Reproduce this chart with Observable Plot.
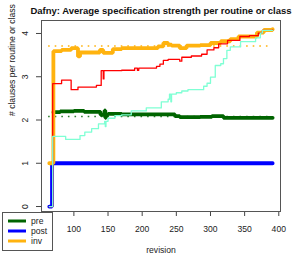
<!DOCTYPE html>
<html>
<head>
<meta charset="utf-8">
<script src="https://cdn.jsdelivr.net/npm/d3@7"></script>
<script src="https://cdn.jsdelivr.net/npm/@observablehq/plot@0.6"></script>
<style>
  html, body { margin: 0; padding: 0; background: #fff; }
  svg { display: block; font-family: "Liberation Sans", Arial, sans-serif; }
</style>
</head>
<body>
<div id="chart"></div>
<script>
const title = "Dafny: Average specification strength per routine or class";
const xLabel = "revision";
const yLabel = "# clauses per routine or class";
const xTicks = [100, 150, 200, 250, 300, 350, 400];
const yTicks = [0, 1, 2, 3, 4];

// pre (dark green, thick)
const preRev = [70, 80, 100, 115, 139, 145, 146, 147, 150, 170, 243, 248, 255, 285, 302, 319, 391];
const preVal = [2.18, 2.20, 2.21, 2.19, 2.12, 2.22, 2.05, 2.12, 2.14, 2.13, 2.13, 2.09, 2.065, 2.07, 2.09, 2.05, 2.05];
// post (blue, thick)
const postRev = [64, 68, 391];
const postVal = [0, 1, 1];
// inv (orange, thick)
const invRev = [64, 70, 82, 96, 106, 109, 138, 143, 157, 170, 223, 231, 238, 243, 255, 265, 285, 300, 315, 329, 341, 368, 378, 391];
const invVal = [1.0, 3.59, 3.62, 3.66, 3.47, 3.56, 3.62, 3.55, 3.64, 3.66, 3.70, 3.78, 3.74, 3.72, 3.66, 3.72, 3.73, 3.78, 3.82, 3.87, 3.93, 4.02, 4.08, 4.10];
// red thin series
const redRev = [64, 69, 82, 96, 106, 133, 140, 143, 144, 170, 189, 193, 195, 221, 226, 231, 238, 255, 258, 272, 287, 295, 305, 312, 325, 343, 357, 370, 376, 391];
const redVal = [0, 2.84, 2.92, 2.70, 2.76, 2.80, 3.14, 2.95, 3.14, 3.15, 3.20, 3.15, 3.20, 3.24, 3.29, 3.38, 3.40, 3.36, 3.45, 3.48, 3.52, 3.62, 3.67, 3.76, 3.84, 3.93, 3.95, 4.01, 4.07, 4.08];
// aquamarine thin series
const aquaRev = [64, 69, 88, 109, 116, 126, 136, 145, 146, 147, 150, 160, 170, 184, 206, 228, 238, 240, 242, 243, 250, 258, 267, 290, 295, 300, 307, 315, 319, 324, 329, 344, 366, 373, 376, 391];
const aquaVal = [0, 1.62, 1.55, 1.64, 1.72, 1.80, 1.91, 1.97, 1.85, 1.97, 2.04, 2.10, 2.12, 2.21, 2.28, 2.42, 2.48, 2.60, 2.42, 2.60, 2.63, 2.67, 2.70, 2.78, 2.85, 2.99, 3.26, 3.30, 3.42, 3.61, 3.69, 3.81, 3.90, 4.01, 4.07, 4.07];
// dotted reference levels
const refRange = [63, 391];
const invRef = 3.71;
const preRef = 2.08;

const legendLabels = ["pre", "post", "inv"];
const legendColors = ["#006400", "#0000ff", "#ffb30f"];

const toRows = (rev, val) => rev.map((r, i) => ({rev: r, val: val[i]}));

const thick = (rev, val, color) => Plot.line(toRows(rev, val), {x: "rev", y: "val", stroke: color, strokeWidth: 3.8, curve: "step-after", strokeLinejoin: "miter"});
const thin = (rev, val, color) => Plot.line(toRows(rev, val), {x: "rev", y: "val", stroke: color, strokeWidth: 1.3, curve: "step-after"});

const chart = Plot.plot({
  width: 294,
  height: 254,
  marginLeft: 41,
  marginRight: 14,
  marginTop: 20,
  marginBottom: 43,
  style: {fontFamily: "'Liberation Sans', Arial, sans-serif", background: "#fff"},
  x: {domain: [52.6, 402.5]},
  y: {domain: [-0.115, 4.3]},
  marks: [
    Plot.axisX(xTicks, {tickSize: 5, tickPadding: 9, fontSize: 8.6, stroke: "#444", color: "#222", label: null}),
    Plot.axisY(yTicks, {tickSize: 5, text: null, stroke: "#444", label: null}),
    Plot.text(yTicks, {y: d => d, frameAnchor: "left", dx: -16, rotate: -90, text: d => String(d), fontSize: 8.6, fill: "#222", textAnchor: "middle"}),
    Plot.ruleY([invRef], {x1: refRange[0], x2: refRange[1], stroke: legendColors[2], strokeWidth: 1.6, strokeDasharray: "1.6,5"}),
    Plot.ruleY([preRef], {x1: refRange[0], x2: refRange[1], stroke: "#2e7d2e", strokeWidth: 1.6, strokeDasharray: "1.6,5"}),
    thick(preRev, preVal, legendColors[0]),
    thick(postRev, postVal, legendColors[1]),
    thick(invRev, invVal, legendColors[2]),
    thin(redRev, redVal, "#ff0000"),
    thin(aquaRev, aquaVal, "#7fffd4"),
    Plot.frame({stroke: "#555", strokeWidth: 1}),
    Plot.text([title], {frameAnchor: "top", dy: -10, fontWeight: "bold", fontSize: 9.5, fill: "#111", lineAnchor: "middle"}),
    Plot.text([yLabel], {frameAnchor: "left", dx: -29, rotate: -90, fontSize: 8.6, fill: "#222", lineAnchor: "middle"}),
    Plot.text([xLabel], {frameAnchor: "bottom", dy: 39, fontSize: 8.6, fill: "#222", lineAnchor: "middle"})
  ]
});

// legend box (bottom-left)
const svg = d3.select(chart);
const lg = svg.append("g").attr("text-anchor", "start");
lg.append("rect").attr("x", 2.5).attr("y", 212.5).attr("width", 50).attr("height", 38)
  .attr("fill", "#fff").attr("stroke", "#555");
legendLabels.forEach((lab, i) => {
  const y = 221 + i * 10;
  lg.append("line").attr("x1", 8).attr("x2", 26).attr("y1", y).attr("y2", y)
    .attr("stroke", legendColors[i]).attr("stroke-width", 3);
  lg.append("text").attr("x", 31).attr("y", y).attr("dy", "0.35em")
    .attr("text-anchor", "start")
    .attr("font-size", 8.6).attr("fill", "#222").text(lab);
});

document.getElementById("chart").appendChild(chart);
</script>
</body>
</html>
